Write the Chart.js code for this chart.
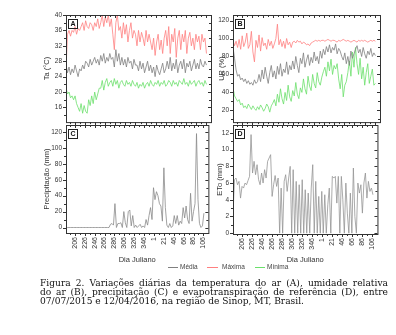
<!DOCTYPE html>
<html>
<head>
<meta charset="utf-8">
<script src="https://cdn.jsdelivr.net/npm/chart.js@4"></script>
<style>
  body { margin: 0; background: #fff; width: 396px; height: 335px; position: relative; overflow: hidden; font-family: "Liberation Sans", Arial, sans-serif; }
  canvas { position: absolute; }
  .lg { position: absolute; top: 263px; font-size: 6.5px; color: #444; line-height: 8px; }
  .lgl { position: absolute; top: 267px; height: 0; border-top: 1px solid; }
  .cap { position: absolute; left: 40px; width: 348px; font-family: "DejaVu Serif", "Liberation Serif", serif; font-size: 9.1px; line-height: 9px; color: #111; white-space: nowrap; }
  .just { text-align: justify; text-align-last: justify; }
</style>
</head>
<body>
<canvas id="pA" width="176" height="125" style="left:40px;top:5px"></canvas>
<canvas id="pB" width="171" height="125" style="left:214px;top:5px"></canvas>
<canvas id="pC" width="176" height="149" style="left:40px;top:115px"></canvas>
<canvas id="pD" width="171" height="149" style="left:214px;top:115px"></canvas>

<div class="lgl" style="left:168px;width:10px;border-color:#808080"></div>
<div class="lg" style="left:180px">Média</div>
<div class="lgl" style="left:207px;width:11px;border-color:#ff8080"></div>
<div class="lg" style="left:222px">Máxima</div>
<div class="lgl" style="left:255px;width:10px;border-color:#6be06b"></div>
<div class="lg" style="left:267px">Mínima</div>

<div class="cap just" style="top:279px">Figura 2. Variações diárias da temperatura do ar (A), umidade relativa</div>
<div class="cap just" style="top:288px">do ar (B), precipitação (C) e evapotranspiração de referência (D), entre</div>
<div class="cap" style="top:297px">07/07/2015 e 12/04/2016, na região de Sinop, MT, Brasil.</div>

<script>
// one value every 3 days, from 07/07/2015 (day 188) to 12/04/2016
const STEP = 3;
const X_MAX = 288;
const xTickLabels = ['206', '226', '246', '266', '286', '306', '326', '346', '1', '21', '46', '66', '86', '106'];

const tMax = [26, 35, 36, 34.5, 36, 35.5, 37, 35, 36.5, 36,
  37, 38, 36, 38.5, 37, 36.5, 38, 37.5, 36, 38,
  37, 39, 36.5, 38, 40, 37, 39.5, 38, 40, 37,
  39, 35, 31, 38, 40, 36, 37, 34, 38, 35,
  37.5, 33, 36, 38, 34, 36, 35, 32, 36, 33,
  35.5, 34, 32, 36, 33, 35, 33, 31, 34, 29.5,
  33, 35, 31, 33.5, 30, 34, 36, 32, 37, 30,
  35, 33, 36.5, 29, 34, 36, 31, 35, 33, 36,
  30, 34, 35.5, 32, 34, 31, 35, 33, 34.5, 31,
  35, 33, 34, 30];
const tMed = [27, 25, 26.5, 24.5, 26, 25, 27, 25.5, 24, 26,
  25.5, 27, 26, 28, 27.5, 26.5, 28.5, 27, 28, 29,
  27.5, 28.5, 27, 29.5, 28, 30, 27.5, 29, 28, 30,
  28.5, 29, 26.5, 31, 28, 30, 27, 29, 27, 28.5,
  26.5, 29, 27.5, 28, 26, 28.5, 27, 27, 25.5, 28,
  26, 27.5, 25, 26.5, 28, 25.5, 27, 25, 26.5, 24,
  27, 25.5, 24.5, 26, 27.5, 25, 26, 28, 26, 29,
  25.5, 27.5, 26, 28.5, 25, 27, 28, 26, 28.5, 25,
  27.5, 26.5, 28, 25.5, 27, 28.5, 26, 27.5, 26, 28.5,
  27, 26.5, 28, 27];
const tMin = [21, 19.5, 20, 18.5, 19, 18, 19, 17, 16, 15,
  17, 14.5, 16.5, 15, 14.5, 18, 16.5, 19, 17, 20,
  18, 19.5, 21, 21, 23, 20.5, 22.5, 23.5, 21.5, 22.5,
  23, 21.5, 23.5, 22, 23, 21, 22.5, 23, 22, 21.5,
  23, 22, 22.5, 21.5, 23, 22, 21.5, 22.5, 21, 22,
  21.5, 22.5, 21, 22, 22.5, 21.5, 23, 22, 21.5, 22.5,
  22, 23, 21.5, 22.5, 22, 23, 21.5, 22, 23, 22.5,
  21.5, 23, 22, 22.5, 21.5, 23, 22.5, 22, 23.5, 22,
  22.5, 21.5, 23, 22, 22.5, 23, 21.5, 22.5, 23, 22,
  22.5, 21.5, 23, 22];

const rhMax = [98, 92, 97, 90, 99, 88, 103, 91, 96, 106,
  89, 93, 108, 85, 74, 98, 90, 104, 86, 101,
  92, 95, 88, 99, 92, 97, 89, 94, 100, 116,
  93, 99, 91, 97, 89, 100, 93, 96, 90, 96,
  97, 95, 98, 96, 97, 94, 96, 95, 93, 94,
  92, 95, 96, 97, 98, 97, 98, 97, 98, 98,
  97, 98, 99, 98, 97, 98, 98, 97, 96, 98,
  97, 98, 99, 98, 97, 98, 97, 96, 97, 98,
  97, 96, 98, 97, 98, 97, 98, 97, 96, 97,
  98, 97, 98, 97];
const rhMed = [90, 78, 65, 58, 60, 54, 56, 52, 55, 50,
  53, 49, 51, 48, 54, 50, 52, 60, 52, 65,
  55, 68, 58, 50, 62, 70, 57, 64, 55, 69,
  60, 72, 58, 66, 62, 74, 60, 70, 65, 75,
  66, 80, 70, 62, 78, 72, 84, 68, 76, 82,
  70, 79, 73, 85, 75, 80, 72, 86, 78, 88,
  82, 91, 85, 93, 84, 90, 87, 94, 83, 89,
  86, 80, 76, 84, 72, 80, 70, 86, 78, 83,
  88, 92, 84, 88, 80, 90, 83, 78, 86, 82,
  89, 80, 84, 81];
const rhMin = [45, 36, 33, 30, 32, 26, 28, 23, 25, 22,
  27, 24, 21, 25, 22, 20, 24, 21, 26, 23,
  19, 22, 27, 24, 18, 25, 28, 32, 25, 38,
  29, 44, 33, 27, 40, 31, 48, 35, 30, 42,
  36, 51, 38, 33, 45, 40, 55, 44, 38, 58,
  47, 42, 60, 50, 45, 62, 52, 48, 57, 63,
  68, 58, 74, 64, 77, 60, 70, 66, 72, 55,
  44, 60, 35, 48, 52, 62, 75, 58, 85, 68,
  90, 72, 60, 78, 55, 68, 48, 62, 72, 50,
  58, 66, 48, 50];

const precip = [0, 0, 0, 0, 0, 0, 0, 0, 0, 0,
  0, 0, 0, 0, 0, 0, 0, 0, 0, 0,
  0, 0, 0, 0, 0, 0, 0, 0, 0, 0,
  4, 5, 3, 30, 0, 5, 5, 6, 0, 20,
  6, 0, 20, 22, 2, 15, 0, 3, 0, 2,
  4, 0, 2, 0, 10, 3, 15, 25, 10, 50,
  35, 45, 40, 30, 27, 8, 75, 25, 3, 0,
  5, 0, 2, 15, 5, 15, 3, 8, 5, 25,
  12, 27, 10, 5, 43, 8, 20, 30, 118, 35,
  5, 0, 2, 18];

const eto = [2.3, 6.4, 6.6, 5.8, 6.2, 4.2, 5.6, 5.4, 6.0, 5.8,
  6.3, 6.8, 11.8, 7.2, 8.6, 7.0, 8.2, 6.4, 5.8, 7.2,
  6.0, 7.6, 6.6, 8.6, 9.0, 9.4, 4.4, 5.8, 6.9, 5.6,
  6.6, 0, 5.4, 0, 6.2, 7.0, 5.0, 6.6, 8.0, 0,
  7.6, 0, 6.2, 0, 5.8, 0, 6.4, 0, 5.2, 0,
  4.8, 0, 5.4, 8.2, 0, 6.2, 0, 4.4, 0, 5.0,
  0, 4.6, 0, 3.4, 5.4, 0, 6.8, 6.6, 6.8, 3.6,
  6.8, 0, 6.8, 4.0, 0, 6.0, 2.4, 0, 4.8, 0,
  7.8, 2.0, 0, 6.0, 4.8, 5.8, 2.4, 6.0, 7.2, 4.2,
  6.2, 5.0, 5.4, 4.6];

const yTicksA = [16, 20, 24, 28, 32, 36, 40];
const yTicksB = [20, 40, 60, 80, 100, 120];
const yTicksC = [0, 20, 40, 60, 80, 100, 120];
const yTicksD = [0, 2, 4, 6, 8, 10, 12];

// box, origin-style tick marks and panel letter
const frame = {
  id: 'frame',
  afterDraw(chart, args, opts) {
    const {ctx, chartArea: a} = chart;
    const x = chart.scales.x, y = chart.scales.y;
    ctx.save();
    ctx.strokeStyle = '#333';
    ctx.lineWidth = 1;
    ctx.strokeRect(a.left + 0.5, a.top + 0.5, a.right - a.left, a.bottom - a.top);
    ctx.beginPath();
    for (let d = 8; d < X_MAX; d += 10) {
      const px = Math.round(x.getPixelForValue(d)) + 0.5;
      const len = (d - 18) % 20 === 0 ? 3 : 2;
      ctx.moveTo(px, a.bottom); ctx.lineTo(px, a.bottom + len);
      ctx.moveTo(px, a.top); ctx.lineTo(px, a.top + len);
    }
    const yt = y.ticks.map(t => t.value);
    const half = (yt[1] - yt[0]) / 2;
    for (let k = -1; k < 2 * yt.length; k++) {
      const v = yt[0] + k * half;
      if (v < y.min || v > y.max) continue;
      const py = Math.round(y.getPixelForValue(v)) + 0.5;
      const len = k % 2 === 0 ? 3 : 2;
      ctx.moveTo(a.left, py); ctx.lineTo(a.left - len, py);
      ctx.moveTo(a.right, py); ctx.lineTo(a.right - len, py);
    }
    ctx.stroke();
    if (opts.letter) {
      ctx.lineWidth = 1;
      ctx.strokeStyle = '#222';
      ctx.strokeRect(a.left + 2.5, a.top + 4.5, 9, 9);
      ctx.fillStyle = '#111';
      ctx.font = 'bold 7px "Liberation Sans", Arial';
      ctx.textAlign = 'center';
      ctx.textBaseline = 'middle';
      ctx.fillText(opts.letter, a.left + 7, a.top + 9.5);
    }
    ctx.restore();
  }
};

function panel(id, o) {
  return new Chart(document.getElementById(id), {
    type: 'line',
    data: {
      datasets: o.sets.map(s => ({
        data: s.values.map((v, i) => ({x: i * STEP, y: v})),
        borderColor: s.color,
        borderWidth: 0.8,
        pointRadius: 0,
        tension: 0
      }))
    },
    options: {
      responsive: false,
      animation: false,
      devicePixelRatio: 1,
      layout: {padding: {top: 10, right: 5, left: 0, bottom: 0}},
      plugins: {legend: {display: false}, tooltip: {enabled: false}, frame: {letter: o.letter}},
      scales: {
        x: {
          type: 'linear', min: 0, max: X_MAX,
          afterBuildTicks: s => { s.ticks = xTickLabels.map((t, k) => ({value: 18 + 20 * k})); },
          afterFit: s => { s.height = o.xHeight; },
          grid: {display: false, drawTicks: false},
          border: {display: false},
          ticks: {
            display: o.xLabels, autoSkip: false, minRotation: 90, maxRotation: 90, padding: 4,
            color: '#333', font: {size: 7, family: '"Liberation Sans", Arial'},
            callback: (v, k) => xTickLabels[k]
          },
          title: {display: o.xLabels, text: 'Dia Juliano', color: '#333', padding: 0,
            font: {size: 7.5, family: '"Liberation Sans", Arial'}}
        },
        y: {
          min: o.yMin, max: o.yMax,
          afterBuildTicks: s => { s.ticks = o.yTicks.map(v => ({value: v})); },
          afterFit: s => { s.width = o.yWidth; },
          grid: {display: false, drawTicks: false},
          border: {display: false},
          ticks: {padding: 4, color: '#333', font: {size: 6.5, family: '"Liberation Sans", Arial'}},
          title: {display: true, text: o.yTitle, color: '#333', padding: {top: o.titlePad, bottom: 0},
            font: {size: 7.5, family: '"Liberation Sans", Arial'}}
        }
      }
    },
    plugins: [frame]
  });
}

panel('pA', {
  letter: 'A', yTitle: 'Ta (°C)', yMin: 12.2, yMax: 40, yTicks: yTicksA,
  yWidth: 26, titlePad: 2, xHeight: 6, xLabels: false,
  sets: [{values: tMed, color: '#808080'}, {values: tMax, color: '#ff8080'}, {values: tMin, color: '#6be06b'}]
});
panel('pB', {
  letter: 'B', yTitle: 'UR (%)', yMin: 6.9, yMax: 126.2, yTicks: yTicksB,
  yWidth: 19, titlePad: 3, xHeight: 6, xLabels: false,
  sets: [{values: rhMed, color: '#808080'}, {values: rhMax, color: '#ff8080'}, {values: rhMin, color: '#6be06b'}]
});
panel('pC', {
  letter: 'C', yTitle: 'Precipitação (mm)', yMin: -6.9, yMax: 128.8, yTicks: yTicksC,
  yWidth: 26, titlePad: 2, xHeight: 31, xLabels: true,
  sets: [{values: precip, color: '#8a8a8a'}]
});
panel('pD', {
  letter: 'D', yTitle: 'ETo (mm)', yMin: -0.1, yMax: 12.95, yTicks: yTicksD,
  yWidth: 19, titlePad: 1.5, xHeight: 30, xLabels: true,
  sets: [{values: eto, color: '#959595'}]
});
</script>
</body>
</html>
